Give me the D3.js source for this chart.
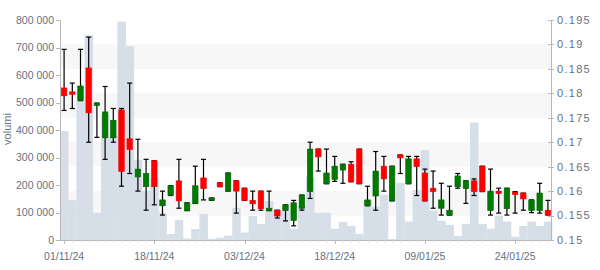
<!DOCTYPE html>
<html><head><meta charset="utf-8">
<script src="https://cdn.jsdelivr.net/npm/d3@7"></script>
<style>
html,body{margin:0;padding:0;background:#fff;}
svg{display:block;font-family:"Liberation Sans",Arial,sans-serif;}
</style></head>
<body><div id="chart"></div>
<script>
const dates = ["01/11/24","04/11/24","05/11/24","06/11/24","07/11/24","08/11/24","11/11/24","12/11/24","13/11/24","14/11/24","15/11/24",
"18/11/24","19/11/24","20/11/24","21/11/24","22/11/24","25/11/24","26/11/24","27/11/24","28/11/24","29/11/24","02/12/24",
"03/12/24","04/12/24","05/12/24","06/12/24","09/12/24","10/12/24","11/12/24","12/12/24","13/12/24","16/12/24","17/12/24",
"18/12/24","19/12/24","20/12/24","23/12/24","27/12/24","30/12/24","02/01/25","03/01/25","06/01/25","07/01/25","08/01/25",
"09/01/25","10/01/25","13/01/25","14/01/25","15/01/25","16/01/25","17/01/25","20/01/25","21/01/25","22/01/25","23/01/25",
"24/01/25","27/01/25","28/01/25","29/01/25","30/01/25"];
const open  = [0.1811,0.1803,0.1785,0.1852,0.1775,0.1709,0.1709,0.1766,0.1707,0.1629,0.1609,0.1662,0.1570,0.1591,0.1621,0.1560,0.1575,0.1627,0.1581,0.1617,
0.1600,0.1621,0.1606,0.1581,0.1600,0.1560,0.1561,0.1560,0.1540,0.1565,0.1599,0.1686,0.1615,0.1624,0.1643,0.1655,0.1686,0.1570,0.1590,0.1651,
0.1580,0.1674,0.1615,0.1666,0.1637,0.1606,0.1565,0.1551,0.1609,0.1605,0.1621,0.1651,0.1560,0.1600,0.1564,0.1598,0.1596,0.1560,0.1560,0.1561];
const close = [0.1795,0.1798,0.1815,0.1760,0.1780,0.1762,0.1745,0.1640,0.1685,0.1645,0.1636,0.1609,0.1582,0.1611,0.1580,0.1576,0.1611,0.1605,0.1586,0.1609,
0.1637,0.1600,0.1581,0.1574,0.1564,0.1565,0.1549,0.1572,0.1576,0.1592,0.1686,0.1670,0.1637,0.1651,0.1655,0.1619,0.1615,0.1582,0.1641,0.1625,
0.1651,0.1668,0.1666,0.1650,0.1580,0.1599,0.1582,0.1561,0.1631,0.1621,0.1599,0.1599,0.1600,0.1595,0.1606,0.1593,0.1584,0.1582,0.1596,0.1551];
const high  = [0.1890,0.1821,0.1890,0.1915,0.1780,0.1814,0.1769,0.1769,0.1821,0.1706,0.1665,0.1662,0.1600,0.1611,0.1665,0.1576,0.1651,0.1665,0.1586,0.1617,
0.1637,0.1621,0.1606,0.1600,0.1600,0.1600,0.1561,0.1572,0.1581,0.1592,0.1700,0.1686,0.1686,0.1671,0.1655,0.1660,0.1686,0.1610,0.1681,0.1671,
0.1651,0.1674,0.1671,0.1671,0.1645,0.1641,0.1616,0.1610,0.1636,0.1621,0.1625,0.1651,0.1645,0.1606,0.1606,0.1599,0.1596,0.1582,0.1616,0.1581];
const low   = [0.1765,0.1769,0.1785,0.1700,0.1710,0.1665,0.1700,0.1610,0.1636,0.1600,0.1561,0.1572,0.1551,0.1591,0.1565,0.1560,0.1575,0.1582,0.1581,0.1609,
0.1600,0.1555,0.1581,0.1561,0.1561,0.1560,0.1545,0.1539,0.1529,0.1561,0.1585,0.1641,0.1615,0.1620,0.1616,0.1619,0.1615,0.1570,0.1561,0.1600,
0.1580,0.1636,0.1615,0.1591,0.1580,0.1565,0.1551,0.1551,0.1606,0.1575,0.1591,0.1599,0.1551,0.1555,0.1551,0.1555,0.1561,0.1556,0.1555,0.1551];
const volume = [396000,145000,510000,745000,99000,455000,378000,794000,705000,291000,179000,227000,99000,22000,73000,5000,40000,95000,4000,8000,
16000,117000,27000,87000,58000,142000,109000,107000,41000,125000,230000,99000,99000,41000,66000,51000,22000,145000,121000,164000,
4000,208000,67000,182000,327000,107000,70000,55000,15000,58000,427000,58000,41000,88000,67000,12000,51000,67000,51000,67000];
const volumeTicks = [0,100000,200000,300000,400000,500000,600000,700000,800000];
const priceTicks = [0.15,0.155,0.16,0.165,0.17,0.175,0.18,0.185,0.19,0.195];
const bandRanges = [[0.155,0.16],[0.165,0.17],[0.175,0.18],[0.185,0.19]];
const labelIdx = [0,11,22,33,44,55];

const W=600,H=270, L=60, R=552, T=20, B=240;
const svg=d3.select("#chart").append("svg").attr("width",W).attr("height",H);
const idx=d3.range(dates.length);
const x=d3.scaleBand().domain(idx).range([L,R]).paddingInner(0).paddingOuter(0);
const yV=d3.scaleLinear().domain([0,800000]).range([B,T]);
const yP=d3.scaleLinear().domain([0.15,0.195]).range([B,T]);
const textCol="#66717f", axisCol="#b8b8b8";

// bands
svg.append("g").selectAll("rect").data(bandRanges).join("rect")
  .attr("x",L).attr("width",R-L)
  .attr("y",d=>yP(d[1])).attr("height",d=>yP(d[0])-yP(d[1]))
  .attr("fill","#f7f7f7");

// volume
svg.append("g").selectAll("rect").data(idx).join("rect")
  .attr("x",i=>x(i)).attr("width",x.bandwidth()+0.3)
  .attr("y",i=>yV(volume[i])).attr("height",i=>B-yV(volume[i]))
  .attr("fill","#d6dee8");

// candles
const cg=svg.append("g");
const cx=i=>x(i)+x.bandwidth()/2;
const bw=5.5, cap=2.5;
idx.forEach(i=>{
  const g=cg.append("g");
  const xc=cx(i);
  g.append("line").attr("x1",xc).attr("x2",xc).attr("y1",yP(high[i])).attr("y2",yP(low[i]))
    .attr("stroke","#000").attr("stroke-width",1.2);
  [high[i],low[i]].forEach(v=>g.append("line").attr("x1",xc-cap).attr("x2",xc+cap)
    .attr("y1",yP(v)).attr("y2",yP(v)).attr("stroke","#000").attr("stroke-width",1.2));
  const up=close[i]>=open[i];
  const top=yP(Math.max(open[i],close[i])), bot=yP(Math.min(open[i],close[i]));
  g.append("rect").attr("x",xc-bw/2).attr("width",bw)
    .attr("y",top).attr("height",Math.max(bot-top,1.5))
    .attr("fill",up?"#007a00":"#ff0000")
    .attr("stroke",up?"#006000":"#f00000").attr("stroke-width",0.6);
});

// axes lines
svg.append("line").attr("x1",L+0.5).attr("x2",L+0.5).attr("y1",T).attr("y2",B).attr("stroke",axisCol);
svg.append("line").attr("x1",R-0.5).attr("x2",R-0.5).attr("y1",T).attr("y2",B).attr("stroke",axisCol);
svg.append("line").attr("x1",L).attr("x2",R).attr("y1",B+0.5).attr("y2",B+0.5).attr("stroke",axisCol);

// left axis
const fmt=d3.formatLocale({decimal:",",thousands:" ",grouping:[3],currency:["",""]}).format(",d");
const la=svg.append("g");
volumeTicks.forEach(v=>{
  la.append("line").attr("x1",L-4).attr("x2",L).attr("y1",Math.round(yV(v))+0.5).attr("y2",Math.round(yV(v))+0.5).attr("stroke",axisCol);
  la.append("text").attr("x",L-6).attr("y",yV(v)).attr("dy","0.35em").attr("text-anchor","end")
    .attr("font-size",10.5).attr("fill",textCol).text(fmt(v));
});
// right axis
const ra=svg.append("g");
priceTicks.forEach(v=>{
  ra.append("line").attr("x1",R-4).attr("x2",R+2).attr("y1",Math.round(yP(v))+0.5).attr("y2",Math.round(yP(v))+0.5).attr("stroke",axisCol);
  ra.append("text").attr("x",R+5).attr("y",yP(v)).attr("dy","0.35em").attr("text-anchor","start")
    .attr("font-size",11).attr("letter-spacing","1.3px").attr("fill",textCol).text(String(+v.toFixed(3)));
});
// bottom axis
const ba=svg.append("g");
idx.forEach(i=>{
  const major=labelIdx.includes(i);
  ba.append("line").attr("x1",Math.round(cx(i))+0.5).attr("x2",Math.round(cx(i))+0.5)
    .attr("y1",B).attr("y2",B+(major?4:2.5)).attr("stroke",major?axisCol:"#d8d8d8");
});
labelIdx.forEach(i=>{
  ba.append("text").attr("x",cx(i)).attr("y",260).attr("text-anchor","middle")
    .attr("font-size",10.5).attr("fill",textCol).text(dates[i]);
});
// y title
svg.append("text").attr("transform","translate(11,129) rotate(-90)").attr("text-anchor","middle")
  .attr("font-size",11).attr("fill",textCol).text("volumi");
</script></body></html>
